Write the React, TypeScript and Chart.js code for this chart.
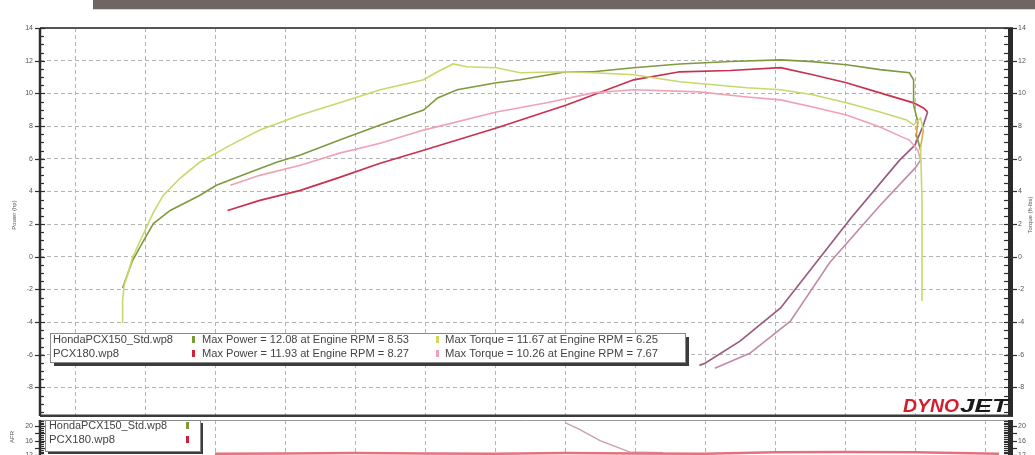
import React, { useEffect, useRef } from 'react';
import { Chart, registerables } from 'chart.js';
Chart.register(...registerables);

// ---- tick labels ----
const rpmGrid = [3.0, 3.5, 4.0, 4.5, 5.0, 5.5, 6.0, 6.5, 7.0, 7.5, 8.0, 8.5, 9.0, 9.5];
const powerTicks = [-8, -6, -4, -2, 0, 2, 4, 6, 8, 10, 12, 14];
const afrTicks = [20, 16, 12, 8, 4, 0, -4, -8];

// ---- HondaPCX150_Std torque ----
const hondaTorqueRpm = [3.34, 3.34, 3.35, 3.38, 3.41, 3.49, 3.56, 3.63, 3.75, 3.89, 4.11, 4.32, 4.61, 4.89, 5.18, 5.49, 5.59, 5.70, 5.80, 6.01, 6.18, 6.51, 6.70, 6.99, 7.32, 7.80, 8.04, 8.27, 8.51, 8.75, 8.94, 8.99, 9.04, 9.06, 9.04, 9.05, 9.05];
const hondaTorque = [-4.06, -2.71, -1.78, -0.98, -0.06, 1.42, 2.71, 3.75, 4.80, 5.78, 6.83, 7.75, 8.68, 9.42, 10.22, 10.83, 11.32, 11.8, 11.63, 11.57, 11.26, 11.32, 11.26, 11.14, 10.71, 10.34, 10.22, 9.91, 9.42, 8.86, 8.37, 8.06, 8.49, 7.75, 6.71, 3.45, -2.71];

// ---- HondaPCX150_Std power ----
const hondaPowerRpm = [3.34, 3.41, 3.49, 3.56, 3.68, 3.89, 4.01, 4.25, 4.44, 4.61, 4.89, 5.18, 5.49, 5.59, 5.73, 6.01, 6.18, 6.51, 6.70, 6.99, 7.32, 7.68, 8.04, 8.27, 8.51, 8.75, 8.96, 8.99, 8.99, 9.02, 9.01, 9.04];
const hondaPower = [-1.91, -0.25, 0.98, 2.03, 2.83, 3.75, 4.37, 5.17, 5.78, 6.22, 7.14, 8.06, 8.98, 9.72, 10.22, 10.65, 10.83, 11.32, 11.32, 11.57, 11.80, 11.95, 12.05, 11.94, 11.75, 11.45, 11.26, 10.83, 9.29, 8.25, 7.45, 6.52];

// ---- PCX180 torque ----
const pcxTorqueRpm = [4.11, 4.32, 4.61, 4.89, 5.18, 5.49, 6.01, 6.37, 6.70, 6.99, 7.46, 7.80, 8.04, 8.27, 8.51, 8.75, 8.91, 8.96, 9.02, 9.04, 9.00, 8.75, 8.39, 8.11, 7.82, 7.57];
const pcxTorque = [4.37, 4.98, 5.60, 6.34, 6.95, 7.75, 8.86, 9.42, 10.03, 10.22, 10.09, 9.78, 9.60, 9.17, 8.68, 7.94, 7.32, 7.14, 6.52, 5.91, 5.42, 3.14, -0.37, -3.94, -5.91, -6.83];

// ---- PCX180 power ----
const pcxPowerRpm = [4.09, 4.32, 4.61, 4.89, 5.18, 5.49, 6.01, 6.51, 6.99, 7.32, 7.68, 8.04, 8.27, 8.51, 8.75, 8.99, 9.06, 9.09, 9.06, 9.00, 8.89, 8.54, 8.04, 7.75, 7.50, 7.46];
const pcxPower = [2.83, 3.45, 4.06, 4.86, 5.72, 6.52, 7.88, 9.29, 10.83, 11.32, 11.40, 11.57, 11.14, 10.65, 10.03, 9.42, 9.11, 8.86, 8.06, 6.83, 5.91, 2.34, -3.14, -5.17, -6.52, -6.65];

// ---- lower panel (air/fuel) ----
const pcxAfrRpm = [4.0, 4.5, 5.0, 5.5, 6.0, 6.5, 7.0, 7.5, 8.0, 8.5, 9.0, 9.6];
const pcxAfr = [12.4, 12.5, 12.6, 12.5, 12.4, 12.6, 12.5, 12.4, 12.8, 12.9, 12.8, 12.4];
const hondaAfrRpm = [6.50, 6.60, 6.75, 6.96, 7.2];
const hondaAfr = [21.0, 19.2, 16.0, 12.9, 12.7];

const legendRows = [
  { file: 'HondaPCX150_Std.wp8', c1: '#7d9a3a', power: 'Max Power = 12.08 at Engine RPM = 8.53', c2: '#d4d860', torque: 'Max Torque = 11.67 at Engine RPM = 6.25' },
  { file: 'PCX180.wp8', c1: '#d0203c', power: 'Max Power = 11.93 at Engine RPM = 8.27', c2: '#f2a0b4', torque: 'Max Torque = 10.26 at Engine RPM = 7.67' },
];

const FONT = '"Liberation Sans", Arial, sans-serif';
const pts = (xs: number[], ys: number[]) => xs.map((x, i) => ({ x, y: ys[i] }));

function fitText(ctx: CanvasRenderingContext2D, t: string, x: number, y: number, w: number) {
  const m = ctx.measureText(t).width || 1;
  ctx.save();
  ctx.translate(x, y);
  ctx.scale(w / m, 1);
  ctx.fillText(t, 0, 0);
  ctx.restore();
}

function drawRulers(ctx: CanvasRenderingContext2D, chart: any, yMin: number, yMax: number, labels: number[]) {
  const a = chart.chartArea;
  const ys = chart.scales.y;
  ctx.save();
  ctx.strokeStyle = '#2e2e2e';
  ctx.lineWidth = 2.5;
  ctx.beginPath(); ctx.moveTo(a.left, a.top); ctx.lineTo(a.left, a.bottom); ctx.stroke();
  ctx.lineWidth = 1.2;
  for (let v = yMin; v <= yMax + 0.001; v += 0.5) {
    const py = Math.round(ys.getPixelForValue(v)) + 0.5;
    const major = Math.abs(v % 2) < 0.01;
    ctx.beginPath();
    ctx.moveTo(a.left - (major ? 5 : 0), py);
    ctx.lineTo(a.left + (major ? 5 : 4), py);
    ctx.stroke();
  }
  ctx.fillStyle = '#2a2a2a';
  ctx.fillRect(a.right - 5, a.top, 5, a.bottom - a.top);
  for (let v = yMin; v <= yMax + 0.001; v += 0.5) {
    const py = Math.round(ys.getPixelForValue(v)) + 0.5;
    const major = Math.abs(v % 2) < 0.01;
    ctx.beginPath();
    ctx.moveTo(a.right - 9, py);
    ctx.lineTo(a.right + (major ? 4 : 0), py);
    ctx.stroke();
  }
  ctx.fillStyle = '#555';
  ctx.font = '7px ' + FONT;
  ctx.textBaseline = 'middle';
  labels.forEach((v) => {
    const py = ys.getPixelForValue(v);
    ctx.textAlign = 'right';
    ctx.fillText(String(v), a.left - 7, py);
    ctx.textAlign = 'left';
    ctx.fillText(String(v), a.right + 5, py);
  });
  ctx.restore();
}

const mainPlugin = {
  id: 'mainDeco',
  beforeDraw(chart: any) {
    const ctx = chart.ctx;
    ctx.save();
    ctx.fillStyle = '#ffffff';
    ctx.fillRect(0, 0, chart.width, chart.height);
    ctx.restore();
  },
  afterDraw(chart: any) {
    const ctx: CanvasRenderingContext2D = chart.ctx;
    const a = chart.chartArea;
    ctx.save();
    ctx.fillStyle = '#6e6662';
    ctx.fillRect(93, 0, 942, 9);
    ctx.fillStyle = '#d8d8d8';
    ctx.fillRect(93, 9, 942, 1);
    ctx.strokeStyle = '#555';
    ctx.lineWidth = 2;
    ctx.beginPath(); ctx.moveTo(a.left, a.top); ctx.lineTo(a.right, a.top); ctx.stroke();
    ctx.strokeStyle = '#3a3a3a';
    ctx.lineWidth = 3;
    ctx.beginPath(); ctx.moveTo(a.left, a.bottom); ctx.lineTo(a.right, a.bottom); ctx.stroke();
    ctx.restore();

    drawRulers(ctx, chart, -9.5, 14, powerTicks);

    ctx.save();
    ctx.fillStyle = '#555';
    ctx.font = '6px ' + FONT;
    ctx.textAlign = 'center';
    ctx.textBaseline = 'middle';
    ctx.save(); ctx.translate(14, 215); ctx.rotate(-Math.PI / 2); ctx.fillText('Power (hp)', 0, 0); ctx.restore();
    ctx.save(); ctx.translate(1030, 215); ctx.rotate(-Math.PI / 2); ctx.fillText('Torque (ft-lbs)', 0, 0); ctx.restore();

    const x0 = 50, y0 = 333, w = 635, h = 29;
    ctx.fillStyle = '#3c3c3c';
    ctx.fillRect(x0 + 4, y0 + 4, w, h);
    ctx.fillStyle = '#ffffff';
    ctx.fillRect(x0, y0, w, h);
    ctx.strokeStyle = '#8a8a8a';
    ctx.lineWidth = 1;
    ctx.strokeRect(x0 + 0.5, y0 + 0.5, w, h);
    ctx.font = '10px ' + FONT;
    ctx.textAlign = 'left';
    ctx.textBaseline = 'middle';
    legendRows.forEach((r, i) => {
      const yy = 340 + i * 14;
      ctx.fillStyle = '#444';
      fitText(ctx, r.file, 53, yy, r.file.length > 12 ? 120 : 66);
      ctx.fillStyle = r.c1; ctx.fillRect(192, yy - 4, 3, 7);
      ctx.fillStyle = '#444';
      fitText(ctx, r.power, 202, yy, 207);
      ctx.fillStyle = r.c2; ctx.fillRect(436, yy - 4, 3, 7);
      ctx.fillStyle = '#444';
      fitText(ctx, r.torque, 445, yy, 213);
    });

    ctx.font = 'italic bold 18px ' + FONT;
    ctx.textBaseline = 'alphabetic';
    ctx.fillStyle = '#d41e2e';
    fitText(ctx, 'DYNO', 903, 412, 56);
    ctx.fillStyle = '#1a1a1a';
    fitText(ctx, 'JET', 960, 412, 48);
    ctx.restore();
  },
};

const lowerPlugin = {
  id: 'lowerDeco',
  beforeDraw(chart: any) {
    const ctx = chart.ctx;
    ctx.save();
    ctx.fillStyle = '#ffffff';
    ctx.fillRect(0, 0, chart.width, chart.height);
    ctx.restore();
  },
  afterDraw(chart: any) {
    const ctx: CanvasRenderingContext2D = chart.ctx;
    const a = chart.chartArea;
    ctx.save();
    ctx.strokeStyle = '#9a9a9a';
    ctx.lineWidth = 1;
    ctx.beginPath(); ctx.moveTo(a.left, a.top + 0.5); ctx.lineTo(a.right, a.top + 0.5); ctx.stroke();
    ctx.restore();
    drawRulers(ctx, chart, -10, 21.5, afrTicks);
    ctx.save();
    ctx.fillStyle = '#555';
    ctx.font = '6px ' + FONT;
    ctx.textAlign = 'center';
    ctx.textBaseline = 'middle';
    ctx.save(); ctx.translate(12, 20); ctx.rotate(-Math.PI / 2); ctx.fillText('AFR', 0, 0); ctx.restore();
    const x0 = 45, y0 = 3, w = 155, h = 31;
    ctx.fillStyle = '#3c3c3c';
    ctx.fillRect(x0 + 3, y0 + 3, w, h);
    ctx.fillStyle = '#fff';
    ctx.fillRect(x0, y0, w, h);
    ctx.strokeStyle = '#8a8a8a';
    ctx.strokeRect(x0 + 0.5, y0 + 0.5, w, h);
    ctx.font = '10px ' + FONT;
    ctx.textAlign = 'left';
    legendRows.forEach((r, i) => {
      const yy = 9 + i * 14;
      ctx.fillStyle = '#444';
      fitText(ctx, r.file, 49, yy, r.file.length > 12 ? 118 : 66);
      ctx.fillStyle = r.c1; ctx.fillRect(186, yy - 4, 3, 7);
    });
    ctx.restore();
  },
};

const backColor = (col: string, fwd?: string) => (c: any) => (c.p1.parsed.x < c.p0.parsed.x - 0.001 ? col : fwd);

function gridX() {
  return {
    type: 'linear' as const,
    min: 2.75,
    max: 9.7,
    afterBuildTicks: (s: any) => { s.ticks = rpmGrid.map((v) => ({ value: v })); },
    afterFit: (s: any) => { s.height = 2; },
    ticks: { display: false },
    grid: { color: '#b4b4b4', lineWidth: 1, drawTicks: false },
    border: { display: false, dash: [4, 3] },
  };
}

function gridY(min: number, max: number, ticks: number[], side: 'left' | 'right', showGrid: boolean) {
  return {
    type: 'linear' as const,
    position: side,
    min,
    max,
    afterBuildTicks: (s: any) => { s.ticks = ticks.map((v) => ({ value: v })); },
    afterFit: (s: any) => { s.width = side === 'left' ? 40 : 22; },
    ticks: { display: false },
    grid: { display: showGrid, color: '#b4b4b4', lineWidth: 1, drawTicks: false },
    border: { display: false, dash: [4, 3] },
  };
}

export default function App() {
  const mainRef = useRef<HTMLCanvasElement>(null);
  const lowRef = useRef<HTMLCanvasElement>(null);

  useEffect(() => {
    const main = new Chart(mainRef.current!, {
      type: 'scatter',
      data: {
        datasets: [
          { label: 'HondaPCX150_Std Torque', data: pts(hondaTorqueRpm, hondaTorque), borderColor: '#c9d86c', borderWidth: 1.6, showLine: true, pointRadius: 0, segment: { borderColor: backColor('#d8b040') } },
          { label: 'HondaPCX150_Std Power', data: pts(hondaPowerRpm, hondaPower), borderColor: '#7e9a3e', borderWidth: 1.6, showLine: true, pointRadius: 0, segment: { borderColor: backColor('#d8a030') } },
          { label: 'PCX180 Torque', data: pts(pcxTorqueRpm, pcxTorque), borderColor: '#eea2b4', borderWidth: 1.6, showLine: true, pointRadius: 0, segment: { borderColor: backColor('#c08aa8') } },
          { label: 'PCX180 Power', data: pts(pcxPowerRpm, pcxPower), borderColor: '#c8304e', borderWidth: 1.7, showLine: true, pointRadius: 0, segment: { borderColor: backColor('#9a5a80') } },
        ],
      },
      options: {
        responsive: false,
        animation: false,
        events: [],
        layout: { autoPadding: false, padding: { top: 28, bottom: 0, left: 0, right: 0 } },
        plugins: { legend: { display: false }, tooltip: { enabled: false } },
        scales: {
          x: gridX(),
          y: gridY(-9.75, 14, powerTicks, 'left', true),
          y2: gridY(-9.75, 14, powerTicks, 'right', false),
        },
      },
      plugins: [mainPlugin],
    });

    const low = new Chart(lowRef.current!, {
      type: 'scatter',
      data: {
        datasets: [
          { label: 'PCX180 AFR', data: pts(pcxAfrRpm, pcxAfr), borderColor: '#e8707e', borderWidth: 2.5, showLine: true, pointRadius: 0 },
          { label: 'HondaPCX150_Std AFR', data: pts(hondaAfrRpm, hondaAfr), borderColor: '#c8a0ae', borderWidth: 1.4, showLine: true, pointRadius: 0 },
        ],
      },
      options: {
        responsive: false,
        animation: false,
        events: [],
        layout: { autoPadding: false, padding: { top: 3, bottom: 0, left: 0, right: 0 } },
        plugins: { legend: { display: false }, tooltip: { enabled: false } },
        scales: {
          x: gridX(),
          y: gridY(-10, 21.7, afrTicks, 'left', false),
          y2: gridY(-10, 21.7, afrTicks, 'right', false),
        },
      },
      plugins: [lowerPlugin],
    });

    return () => { main.destroy(); low.destroy(); };
  }, []);

  return (
    <div style={{ position: 'fixed', left: 0, top: 0, width: 1035, height: 455, overflow: 'hidden', background: '#fff' }}>
      <canvas ref={mainRef} width={1035} height={418} style={{ position: 'absolute', left: 0, top: 0, width: 1035, height: 418 }} />
      <canvas ref={lowRef} width={1035} height={120} style={{ position: 'absolute', left: 0, top: 417, width: 1035, height: 120 }} />
    </div>
  );
}
